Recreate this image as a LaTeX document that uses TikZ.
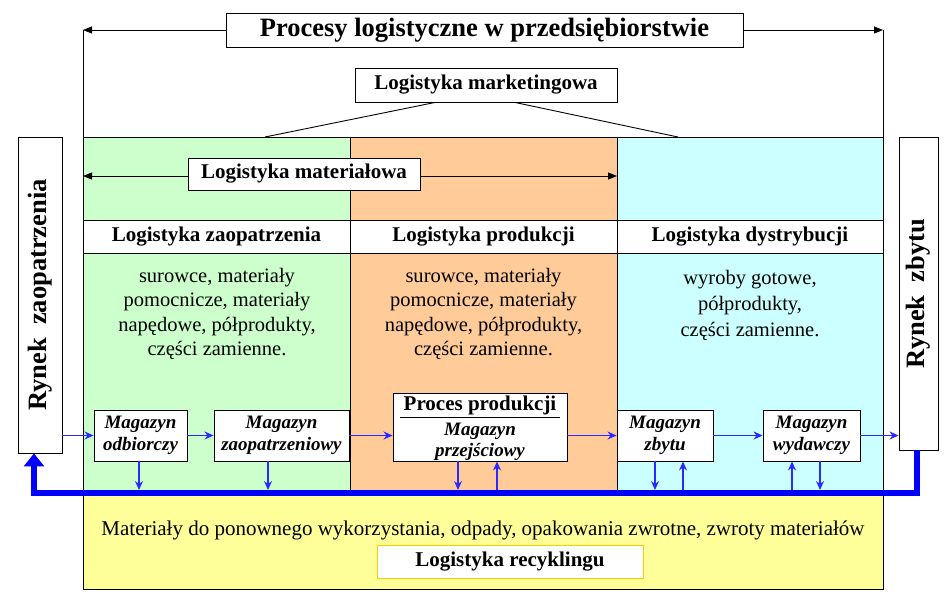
\documentclass[tikz,border=0pt]{standalone}
\usepackage{fontspec}
\setmainfont{Liberation Serif}
\usetikzlibrary{arrows.meta}
\definecolor{cgreen}{HTML}{CCFFCC}
\definecolor{corange}{HTML}{FFCC99}
\definecolor{ccyan}{HTML}{CCFFFF}
\definecolor{cyellow}{HTML}{FFFF99}
\definecolor{cblue}{HTML}{0000FF}
\definecolor{tblue}{HTML}{2A2AFF}
\definecolor{cgold}{HTML}{FFCC00}
\tikzset{
  lbox/.style={draw=black, fill=white, line width=0.9pt, inner sep=0pt},
  blab/.style={font=\bfseries\fontsize{21}{24}\selectfont},
  body/.style={align=center, font=\fontsize{20.5}{24.5}\selectfont},
  mag/.style={draw=black, fill=white, line width=0.9pt, inner sep=0pt, minimum height=51pt,
    align=center, font=\bfseries\itshape\fontsize{19}{21.5}\selectfont},
  blk/.style={-{Triangle[length=9pt,width=7pt]}, line width=0.9pt},
  barrow/.style={-{Stealth[length=9pt,width=8pt]}, draw=tblue, line width=1.3pt},
  bus/.style={draw=cblue, line width=6.5pt, line join=miter},
  rybox/.style={draw=black, fill=white, line width=0.9pt, inner sep=0pt},
  rytext/.style={rotate=90, font=\bfseries\fontsize{26.5}{28}\selectfont}
}
\begin{document}
\begin{tikzpicture}[x=1pt,y=-1pt]
\useasboundingbox (0,0) rectangle (952,598);
% fills
\fill[cgreen] (83,137) rectangle (350,490);
\fill[corange] (350,137) rectangle (617,490);
\fill[ccyan] (617,137) rectangle (883,490);
\fill[white] (83,220) rectangle (883,253);
\fill[cyellow] (83,493) rectangle (883,589);
% frame lines
\draw[line width=0.9pt] (83,137) -- (883,137);
\draw[line width=0.9pt] (83,220) -- (883,220);
\draw[line width=0.9pt] (83,253) -- (883,253);
\draw[line width=0.9pt] (350,137) -- (350,490);
\draw[line width=0.9pt] (617,137) -- (617,490);
\draw[line width=0.9pt] (83,30) -- (83,589) -- (883,589) -- (883,30);

% title
\node[lbox, minimum width=517pt, minimum height=34pt, font=\bfseries\fontsize{26.5}{28}\selectfont] (title) at (484.5,30) {Procesy logistyczne w przedsiębiorstwie};
\coordinate (tl) at (83,30);
\coordinate (tr) at (883,30);
\draw[blk] (title.west) -- (tl);
\draw[blk] (title.east) -- (tr);

% marketing
\node[lbox, minimum width=262pt, minimum height=34pt, blab] (mkt) at (486,85) {Logistyka marketingowa};
\coordinate (ml) at (265,137);
\coordinate (mr) at (678,137);
\draw[line width=0.9pt] ([xshift=-51pt]mkt.south) -- (ml);
\draw[line width=0.9pt] ([xshift=29pt]mkt.south) -- (mr);

% materialowa
\coordinate (matl) at (83,176);
\coordinate (matr) at (617,176);
\node[lbox, minimum width=232pt, minimum height=32pt, blab] (mat) at (304,174) {Logistyka materiałowa};
\draw[blk] (mat.west |- matl) -- (matl);
\draw[blk] (mat.east |- matr) -- (matr);

% headers
\node[blab] (h1) at (216.5,236.5) {Logistyka zaopatrzenia};
\node[blab] (h2) at (483.5,236.5) {Logistyka produkcji};
\node[blab] (h3) at (750,236.5) {Logistyka dystrybucji};

% body
\node[body] (b1) at (217,314) {surowce, materiały\\pomocnicze, materiały\\napędowe, półprodukty,\\części zamienne.};
\node[body] (b2) at (483.5,314) {surowce, materiały\\pomocnicze, materiały\\napędowe, półprodukty,\\części zamienne.};
\node[body, font=\fontsize{20.5}{26}\selectfont] (b3) at (750,305) {wyroby gotowe,\\półprodukty,\\części zamienne.};

% markets
\node[rybox, minimum width=44pt, minimum height=316pt] (rz) at (40,295) {};
\node[rytext] (rzt) at (rz.center) {Rynek\ \ zaopatrzenia};
\node[rybox, minimum width=39pt, minimum height=313pt] (rzb) at (918.5,293.5) {};
\node[rytext] (rzbt) at (rzb.center) {Rynek\ \ zbytu};

% magazines
\node[mag, minimum width=93pt] (odb) at (140.5,435.5) {Magazyn\\odbiorczy};
\node[mag, minimum width=135pt] (zao) at (281.5,435.5) {Magazyn\\zaopatrzeniowy};
\node[lbox, minimum width=174pt, minimum height=68pt] (proc) at (480,427) {};
\node[blab] (proct) at (480,405.5) {Proces produkcji};
\draw[line width=0.9pt] (400,417) -- (560,417);
\node[align=center, font=\bfseries\itshape\fontsize{19}{21}\selectfont] (proct2) at (480,442) {Magazyn\\przejściowy};
\node[mag, minimum width=96pt] (zby) at (665,435.5) {Magazyn\\zbytu};
\node[mag, minimum width=97pt] (wyd) at (811.5,435.5) {Magazyn\\wydawczy};

% flow arrows
\draw[barrow] (rz.east |- odb.west) -- (odb.west);
\draw[barrow] (odb.east) -- (zao.west);
\draw[barrow] (zao.east) -- (proc.west |- zao.east);
\draw[barrow] (proc.east |- zby.west) -- (zby.west);
\draw[barrow] (zby.east) -- (wyd.west);
\draw[barrow] (wyd.east) -- (rzb.west |- wyd.east);

% bus
\coordinate (bl) at (34,493);
\coordinate (br) at (917,493);
\coordinate (busy) at (0,490);
\draw[bus, -{Triangle[length=13pt,width=20pt]}] ([xshift=-1.5pt]rzb.south) -- ([xshift=-1.5pt]rzb.south |- br) -- (bl) -- ([xshift=-6pt]rz.south);

% vertical small arrows
\draw[barrow] ([xshift=-1.5pt]odb.south) -- ([xshift=-1.5pt]odb.south |- busy);
\draw[barrow] ([xshift=-13.5pt]zao.south) -- ([xshift=-13.5pt]zao.south |- busy);
\draw[barrow] ([xshift=-22pt]proc.south) -- ([xshift=-22pt]proc.south |- busy);
\draw[barrow] ([xshift=17pt]proc.south |- busy) -- ([xshift=17pt]proc.south);
\draw[barrow] ([xshift=-10pt]zby.south) -- ([xshift=-10pt]zby.south |- busy);
\draw[barrow] ([xshift=18pt]zby.south |- busy) -- ([xshift=18pt]zby.south);
\draw[barrow] ([xshift=-19.5pt]wyd.south |- busy) -- ([xshift=-19.5pt]wyd.south);
\draw[barrow] ([xshift=8.5pt]wyd.south) -- ([xshift=8.5pt]wyd.south |- busy);

% recycling
\node[font=\fontsize{21}{24}\selectfont] (rec) at (483,530) {Materiały do ponownego wykorzystania, odpady, opakowania zwrotne, zwroty materiałów};
\node[draw=cgold, fill=white, line width=1pt, minimum width=266pt, minimum height=33pt, blab] (recl) at (510,561.5) {Logistyka recyklingu};
\end{tikzpicture}
\end{document}
